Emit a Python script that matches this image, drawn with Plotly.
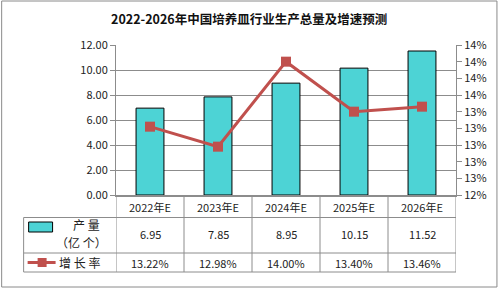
import plotly.graph_objects as go

categories = ["2022年E", "2023年E", "2024年E", "2025年E", "2026年E"]
output_vals = [6.95, 7.85, 8.95, 10.15, 11.52]
growth_vals = [13.22, 12.98, 14.00, 13.40, 13.46]
title_text = "2022-2026年中国培养皿行业生产总量及增速预测"
series1_name = ["产 量", "（亿 个）"]
series2_name = "增 长 率"

W, H = 498, 289
L, R, T, B = 115.5, 456, 45, 195
PW, PH = R - L, B - T

def px(x):
    return (x - L) / PW

def py(y):
    return (B - y) / PH

GRID = "#8c8c8c"
TXT = "#222222"
FONT = "Noto Sans CJK SC"
BAR = "#4dd3d5"
LINE = "#c0504d"

fig = go.Figure()
fig.add_trace(go.Bar(x=categories, y=output_vals, marker=dict(color=BAR, line=dict(color="black", width=1)),
                     width=0.41, yaxis="y", showlegend=False))
fig.add_trace(go.Scatter(x=categories, y=growth_vals, yaxis="y2", mode="lines+markers",
                         line=dict(color=LINE, width=3),
                         marker=dict(symbol="square", size=10, color=LINE), showlegend=False))

shapes = []
shapes.append(dict(type="rect", xref="paper", yref="paper", x0=px(1), x1=px(497), y0=py(1), y1=py(287),
                   line=dict(color="#8a8a8a", width=1), layer="below"))
for yy in [217.5, 253, 272]:
    shapes.append(dict(type="line", xref="paper", yref="paper", x0=px(23), x1=1, y0=py(yy), y1=py(yy),
                       line=dict(color=GRID, width=1)))
shapes.append(dict(type="line", xref="paper", yref="paper", x0=px(23), x1=px(23), y0=py(217.5), y1=py(272),
                   line=dict(color=GRID, width=1)))
for k in range(len(categories) + 1):
    shapes.append(dict(type="line", xref="x", yref="paper", x0=k - 0.5, x1=k - 0.5, y0=0, y1=py(272),
                       line=dict(color=GRID, width=1)))
shapes.append(dict(type="rect", xref="paper", yref="paper", x0=px(28), x1=px(52), y0=py(222), y1=py(232),
                   fillcolor=BAR, line=dict(color="black", width=1)))
shapes.append(dict(type="line", xref="paper", yref="paper", x0=px(27), x1=px(55), y0=py(262.5), y1=py(262.5),
                   line=dict(color=LINE, width=3)))
shapes.append(dict(type="rect", xref="paper", yref="paper", x0=px(37), x1=px(46), y0=py(258), y1=py(267),
                   fillcolor=LINE, line=dict(color=LINE, width=0)))

ann = []
ann.append(dict(text="<b>" + title_text + "</b>", xref="paper", yref="paper", x=px(249), y=py(18.5),
                showarrow=False, font=dict(family=FONT, size=12.5, color="#111"), xanchor="center", yanchor="middle"))
for i, c in enumerate(categories):
    ann.append(dict(text=c, xref="x", yref="paper", x=c, y=py(207), showarrow=False,
                    font=dict(family=FONT, size=11, color=TXT), xanchor="center", yanchor="middle"))
    ann.append(dict(text=f"{output_vals[i]:.2f}", xref="x", yref="paper", x=c, y=py(234.5), showarrow=False,
                    font=dict(family=FONT, size=11, color=TXT), xanchor="center", yanchor="middle"))
    ann.append(dict(text=f"{growth_vals[i]:.2f}%", xref="x", yref="paper", x=c, y=py(262.5), showarrow=False,
                    font=dict(family=FONT, size=11, color=TXT), xanchor="center", yanchor="middle"))
ann.append(dict(text=series1_name[0], xref="paper", yref="paper", x=px(86), y=py(224), showarrow=False,
                font=dict(family=FONT, size=12, color=TXT), xanchor="center", yanchor="middle"))
ann.append(dict(text=series1_name[1], xref="paper", yref="paper", x=px(81), y=py(242), showarrow=False,
                font=dict(family=FONT, size=12, color=TXT), xanchor="center", yanchor="middle"))
ann.append(dict(text=series2_name, xref="paper", yref="paper", x=px(79), y=py(262.5), showarrow=False,
                font=dict(family=FONT, size=12, color=TXT), xanchor="center", yanchor="middle"))

fig.update_layout(
    width=W, height=H, autosize=False,
    margin=dict(l=L, r=W - R, t=T, b=H - B, pad=0),
    paper_bgcolor="white", plot_bgcolor="white",
    font=dict(family=FONT, size=11, color=TXT),
    xaxis=dict(type="category", showticklabels=False, ticks="", showgrid=False, showline=True,
               linecolor=GRID, linewidth=2, range=[-0.5, len(categories) - 0.5], fixedrange=True),
    yaxis=dict(range=[0, 12], dtick=2, tick0=0, tickformat=".2f", showgrid=True, gridcolor=GRID, gridwidth=1,
               showline=True, linecolor=GRID, linewidth=1, ticks="outside", ticklen=5, tickcolor=GRID,
               tickfont=dict(family=FONT, size=11, color=TXT), zeroline=False),
    yaxis2=dict(range=[12.4, 14.2], dtick=0.2, tick0=12.4, tickformat=".0f", ticksuffix="%", overlaying="y",
                side="right", showgrid=False, showline=True, linecolor=GRID, linewidth=1, ticks="outside",
                ticklen=5, tickcolor=GRID, tickfont=dict(family=FONT, size=11, color=TXT), zeroline=False),
    shapes=shapes, annotations=ann, bargap=0.59,
)

fig.write_html("out.html")
